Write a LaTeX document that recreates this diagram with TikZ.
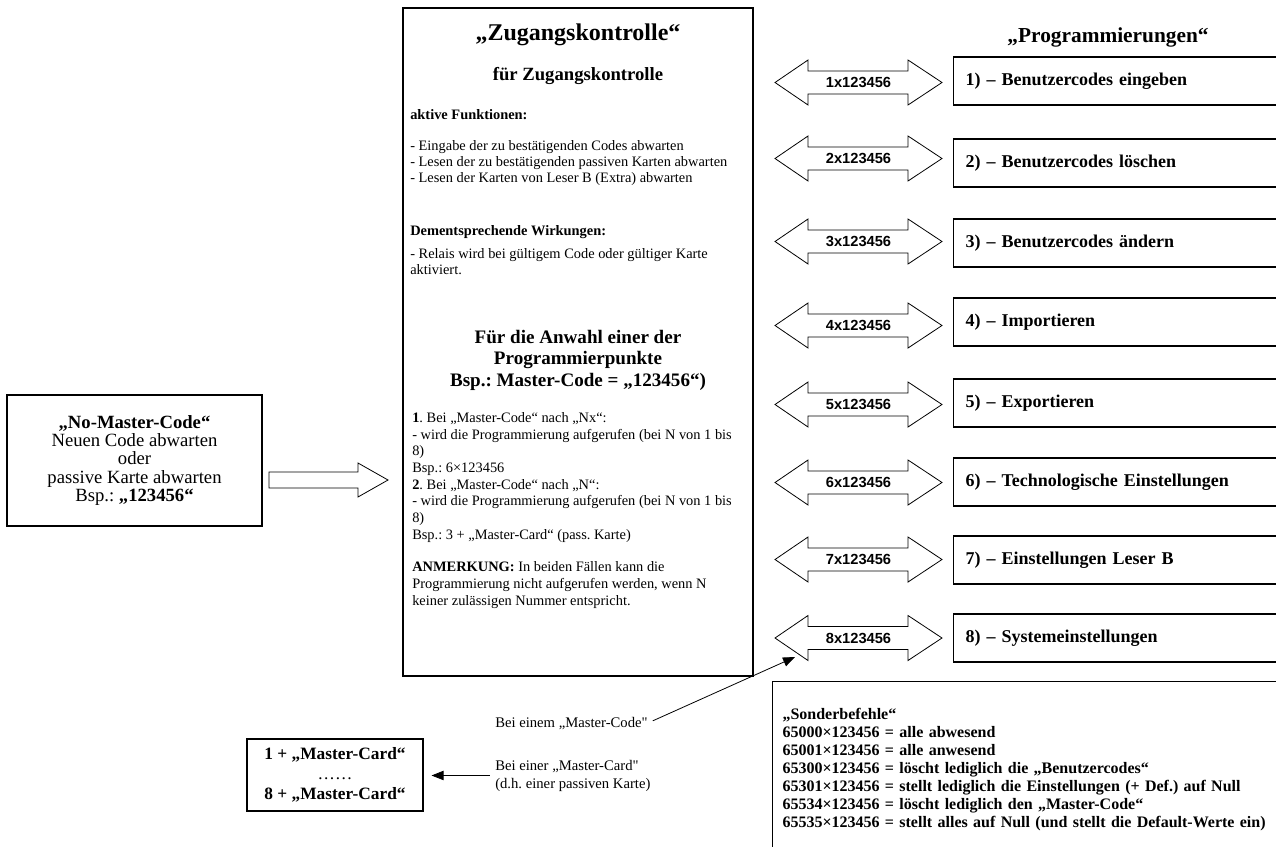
\documentclass[tikz,border=0pt]{standalone}
\usepackage{fontspec}
\setmainfont{Liberation Serif}
\setsansfont{Liberation Sans}
\usetikzlibrary{arrows.meta}
\frenchspacing

\begin{document}
\begin{tikzpicture}[x=0.75pt,y=-0.75pt,
    box/.style={draw,line width=0.8pt},
    pfeiltext/.style={inner sep=0pt,font=\sffamily\bfseries\fontsize{11}{13}\selectfont},
    prog/.style={box,anchor=west,minimum height=36pt,text width=300pt,inner xsep=9pt,
      align=left,font=\bfseries\fontsize{13.5}{15}\selectfont},
    klein/.style={inner sep=0pt,align=left,font=\fontsize{10.8}{12}\selectfont},
    kleinfett/.style={klein,font=\bfseries\fontsize{10.8}{12}\selectfont},
    pfeilspitze/.style={-{Triangle[length=9pt,width=7pt]},line width=0.6pt}]
  \useasboundingbox (0,0) rectangle (1276,846);
  \clip (0,0) rectangle (1276,846);

  % Zugangskontrolle
  \node[box,minimum width=262.5pt,minimum height=501pt] (zk) at (578,342) {};
  \node[inner sep=0pt,anchor=base,font=\bfseries\fontsize{18}{20}\selectfont] (zktitel) at (578,40) {„Zugangskontrolle“};
  \node[inner sep=0pt,anchor=base,font=\bfseries\fontsize{14}{16}\selectfont] (zkunter) at (578,80) {für Zugangskontrolle};
  \node[kleinfett,anchor=base west] (aktiv) at (410,119) {aktive Funktionen:};
  \node[klein,anchor=base west] (funk) at (410,182) {- Eingabe der zu bestätigenden Codes abwarten\\- Lesen der zu bestätigenden passiven Karten abwarten\\- Lesen der Karten von Leser B (Extra) abwarten};
  \node[kleinfett,anchor=base west] (wirk) at (410,235) {Dementsprechende Wirkungen:};
  \node[klein,anchor=base west] (relais) at (410,274) {- Relais wird bei gültigem Code oder gültiger Karte\\aktiviert.};
  \node[inner sep=0pt,anchor=base,align=center,font=\bfseries\fontsize{14.3}{16}\selectfont] (anwahl) at (578,386) {Für die Anwahl einer der\\Programmierpunkte\\Bsp.: Master-Code = „123456“)};
  \node[klein,anchor=base west,font=\fontsize{10.8}{12.5}\selectfont] (punkte) at (412,539) {\textbf{1}. Bei „Master-Code“ nach „Nx“:\\- wird die Programmierung aufgerufen (bei N von 1 bis\\8)\\Bsp.: 6×123456\\\textbf{2}. Bei „Master-Code“ nach „N“:\\- wird die Programmierung aufgerufen (bei N von 1 bis\\8)\\Bsp.: 3 + „Master-Card“ (pass. Karte)};
  \node[klein,anchor=base west,font=\fontsize{10.8}{12.5}\selectfont] (anm) at (412,605) {\textbf{ANMERKUNG:} In beiden Fällen kann die\\Programmierung nicht aufgerufen werden, wenn N\\keiner zulässigen Nummer entspricht.};

  % No-Master-Code
  \node[box,align=center,minimum width=191.25pt,minimum height=98.25pt,font=\fontsize{14}{13.8}\selectfont] (nomaster) at (134.5,460.5) {\textbf{„No-Master-Code“}\\Neuen Code abwarten\\oder\\passive Karte abwarten\\Bsp.: \textbf{„123456“}};
  \coordinate (pfeil) at (269,480);
  \draw[line width=0.6pt] (pfeil) ++(0,-8) -- ++(89,0) -- ++(0,-9) -- ++(30,17) -- ++(-30,17) -- ++(0,-9) -- ++(-89,0) -- cycle;

  % Programmierungen
  \node[inner sep=0pt,anchor=base,font=\bfseries\fontsize{16}{18}\selectfont] (progtitel) at (1108,42) {„Programmierungen“};
  \foreach \N/\Ya/\Yb/\Txt in {1/82.5/81/Benutzercodes eingeben,2/158.5/163/Benutzercodes löschen,
      3/241.5/243/Benutzercodes ändern,4/325.5/322/Importieren,5/404.5/403/Exportieren,
      6/482.5/482/Technologische Einstellungen,7/559.5/560/Einstellungen Leser B,8/638/638/Systemeinstellungen}
  {
    \node[pfeiltext] (a\N) at (858.5,\Ya) {\N x123456};
    \draw[line width=0.6pt] (a\N.center) ++(-83.5,0) -- ++(33,-22.5) -- ++(0,11) -- ++(100,0) -- ++(0,-11)
      -- ++(34,22.5) -- ++(-34,22.5) -- ++(0,-11) -- ++(-100,0) -- ++(0,11) -- cycle;
    \node[prog] (p\N) at (953,\Yb) {\N) – \Txt};
  }

  % Sonderbefehle
  \node[box,anchor=north west,align=left,text width=420pt,inner xsep=7.5pt,inner ysep=20pt,
    font=\bfseries\fontsize{12}{13.5}\selectfont] (sonder) at (772,681) {„Sonderbefehle“\\65000×123456 = alle abwesend\\65001×123456 = alle anwesend\\65300×123456 = löscht lediglich die „Benutzercodes“\\65301×123456 = stellt lediglich die Einstellungen (+ Def.) auf Null\\65534×123456 = löscht lediglich den „Master-Code“\\65535×123456 = stellt alles auf Null (und stellt die Default-Werte ein)};

  % Master-Code / Master-Card
  \node[klein,anchor=base west,font=\fontsize{11}{13.5}\selectfont] (mcode) at (495,727) {Bei einem „Master-Code\textquotedbl};
  \node[klein,anchor=base west,font=\fontsize{11}{13.5}\selectfont] (mcard) at (495,788) {Bei einer „Master-Card\textquotedbl\\(d.h. einer passiven Karte)};
  \node[box,align=center,minimum width=132pt,minimum height=54pt,font=\bfseries\fontsize{13}{15}\selectfont] (mcbox) at (335,775) {1 + „Master-Card“\\{\mdseries ……}\\8 + „Master-Card“};
  \coordinate (ziel) at ([shift={(-63.5,19)}]a8.center);
  \draw[pfeilspitze,shorten <=4pt] (mcode.east) -- (ziel);
  \draw[pfeilspitze,shorten <=4pt,shorten >=6pt] (mcard.west) -- (mcard.west -| mcbox.east);
\end{tikzpicture}
\end{document}
